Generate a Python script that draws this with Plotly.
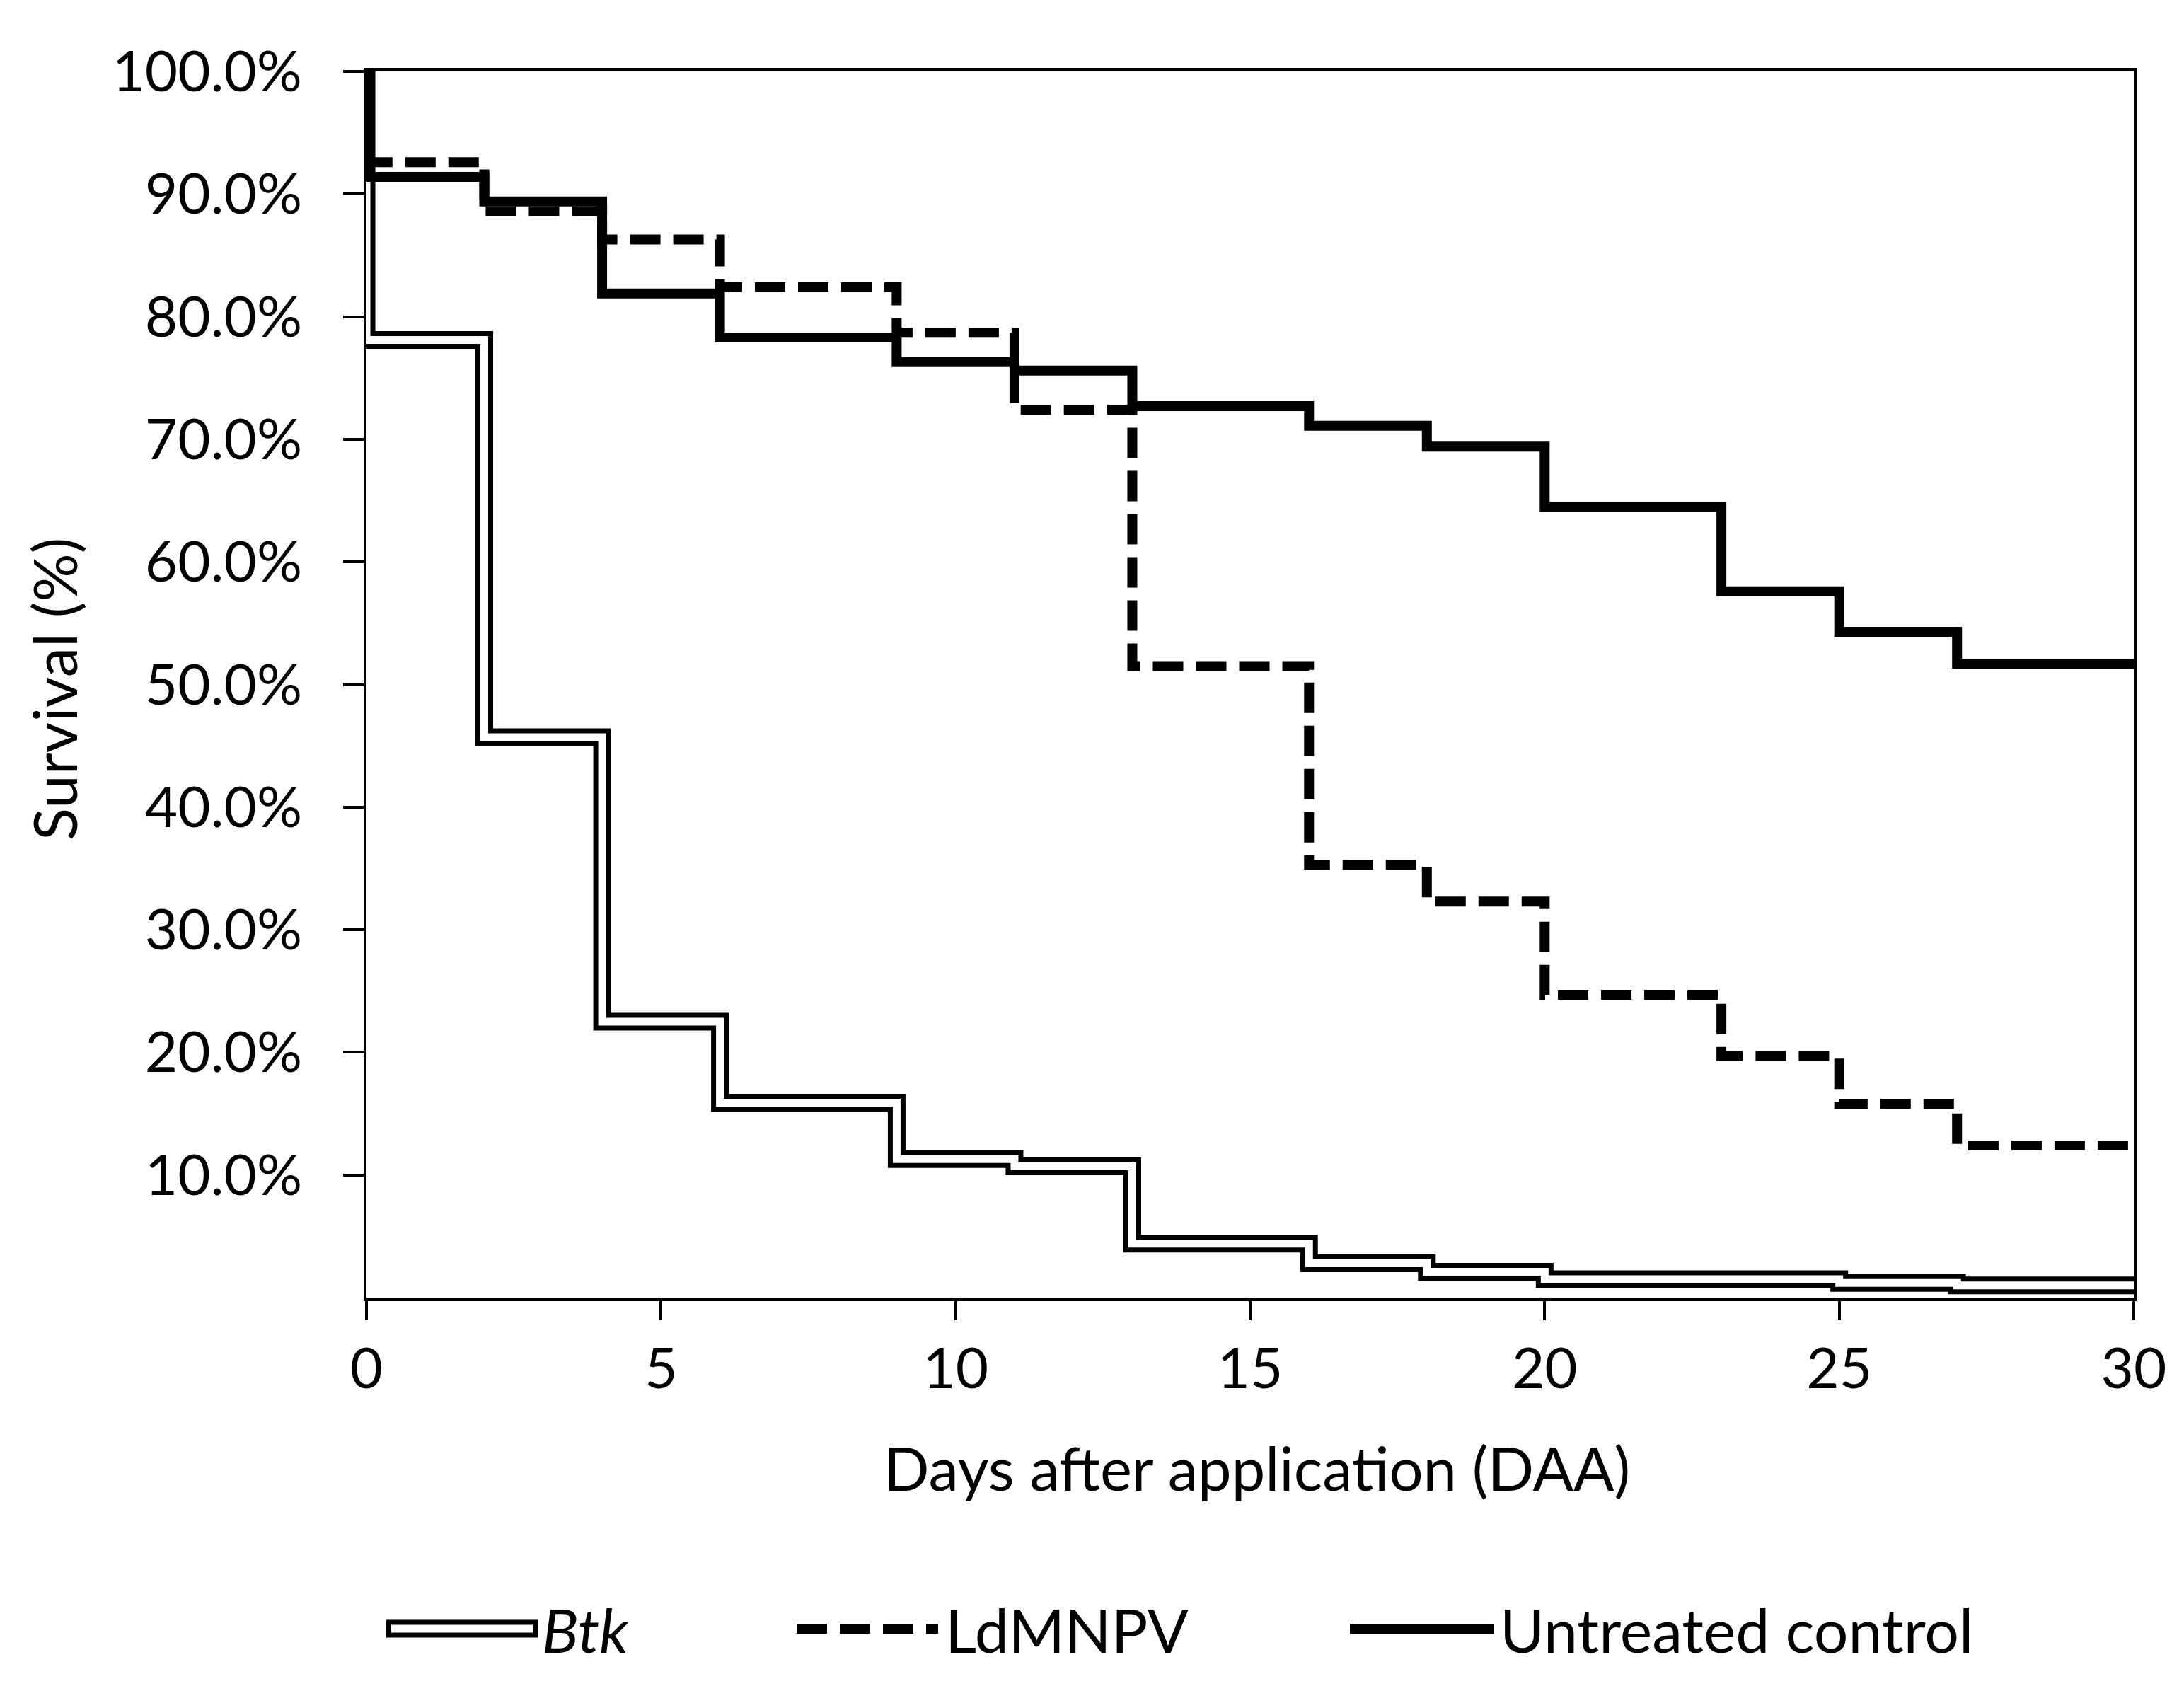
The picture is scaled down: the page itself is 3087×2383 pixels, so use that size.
import plotly.graph_objects as go

# ---- data ----
days = [0, 2, 4, 6, 9, 11, 13, 16, 18, 20, 23, 25, 27]
end_day = 30
btk = [78.1, 45.7, 22.5, 15.9, 11.3, 10.7, 4.4, 2.8, 2.1, 1.5, 1.5, 1.2, 1.0]
ldmnpv = [92.6, 88.6, 86.3, 82.4, 78.7, 72.4, 51.5, 35.3, 32.3, 24.7, 19.7, 15.8, 12.4]
control = [91.4, 89.4, 81.9, 78.3, 76.3, 75.6, 72.7, 71.1, 69.4, 64.5, 57.6, 54.3, 51.7]
start_value = 100.0

x_ticks = [0, 5, 10, 15, 20, 25, 30]
y_ticks = [10, 20, 30, 40, 50, 60, 70, 80, 90, 100]
series_names = ["Btk", "LdMNPV", "Untreated control"]

FONT = "Lato"
FS = 80
FS_TITLE = 85


def step_xy(vals):
    xs = [days[0]] + days + [end_day]
    ys = [start_value] + vals + [vals[-1]]
    return xs, ys


fig = go.Figure()

# Btk: double line (black thick + white core)
bx, by = step_xy(btk)
fig.add_trace(go.Scatter(x=bx, y=by, mode="lines", line=dict(color="black", width=25, shape="hv"),
                         showlegend=False, hoverinfo="skip"))
fig.add_trace(go.Scatter(x=bx, y=by, mode="lines", line=dict(color="white", width=11, shape="hv"),
                         showlegend=False, name=series_names[0]))

lx, ly = step_xy(ldmnpv)
fig.add_trace(go.Scatter(x=lx, y=ly, mode="lines",
                         line=dict(color="black", width=14, shape="hv", dash="43px,18px"),
                         showlegend=False, name=series_names[1]))

cx, cy = step_xy(control)
fig.add_trace(go.Scatter(x=cx, y=cy, mode="lines", line=dict(color="black", width=14, shape="hv"),
                         showlegend=False, name=series_names[2]))

W, H = 3087, 2383
L, R, T, B = 510, 3008, 93, 1826

fig.update_layout(
    width=W, height=H,
    margin=dict(l=L, r=W - R, t=T, b=H - B),
    paper_bgcolor="white", plot_bgcolor="white",
    font=dict(family=FONT, size=FS, color="black"),
    showlegend=False,
)
fig.update_xaxes(range=[0, 30], tickvals=x_ticks, ticks="outside", ticklen=27, tickwidth=4,
                 tickcolor="black", showline=True, linewidth=5, linecolor="black", mirror=True,
                 showgrid=False, zeroline=False, ticklabelstandoff=0,
                 tickfont=dict(family=FONT, size=FS, color="black"))
fig.update_yaxes(range=[0, 100], tickvals=y_ticks, ticktext=[f"{v:.1f}%" for v in y_ticks],
                 ticks="outside", ticklen=29, tickwidth=4, tickcolor="black",
                 showline=True, linewidth=4, linecolor="black", mirror=True,
                 showgrid=False, zeroline=False, ticklabelstandoff=42,
                 tickfont=dict(family=FONT, size=FS, color="black"))


def px_x(p):
    return (p - L) / (R - L)


def px_y(p):
    return (B - p) / (B - T)


# axis titles
fig.add_annotation(text="Days after application (DAA)", xref="paper", yref="paper",
                   x=px_x(1768), y=px_y(2066), xanchor="center", yanchor="middle", showarrow=False,
                   font=dict(family=FONT, size=FS_TITLE, color="black"))
fig.add_annotation(text="Survival (%)", xref="paper", yref="paper", textangle=-90,
                   x=px_x(68), y=px_y(966), xanchor="center", yanchor="middle", showarrow=False,
                   font=dict(family=FONT, size=FS_TITLE, color="black"))

# legend (drawn manually to match sample lengths)
ly_leg = px_y(2294)
leg = [
    (538, 752, 756, "<i>Btk</i>"),
    (1118, 1318, 1326, "LdMNPV"),
    (1900, 2104, 2110, "Untreated control"),
]
# Btk sample
fig.add_shape(type="line", xref="paper", yref="paper", x0=px_x(leg[0][0]), x1=px_x(leg[0][1]),
              y0=ly_leg, y1=ly_leg, line=dict(color="black", width=25))
fig.add_shape(type="line", xref="paper", yref="paper", x0=px_x(leg[0][0] + 7), x1=px_x(leg[0][1] - 7),
              y0=ly_leg, y1=ly_leg, line=dict(color="white", width=11))
fig.add_shape(type="line", xref="paper", yref="paper", x0=px_x(leg[1][0]), x1=px_x(leg[1][1]),
              y0=ly_leg, y1=ly_leg, line=dict(color="black", width=14, dash="43px,18px"))
fig.add_shape(type="line", xref="paper", yref="paper", x0=px_x(leg[2][0]), x1=px_x(leg[2][1]),
              y0=ly_leg, y1=ly_leg, line=dict(color="black", width=14))
for s0, s1, tx, label in leg:
    fig.add_annotation(text=label, xref="paper", yref="paper", x=px_x(tx), y=ly_leg,
                       xanchor="left", yanchor="middle", showarrow=False,
                       font=dict(family=FONT, size=FS_TITLE + 1, color="black"))

fig.write_html("out.html")
